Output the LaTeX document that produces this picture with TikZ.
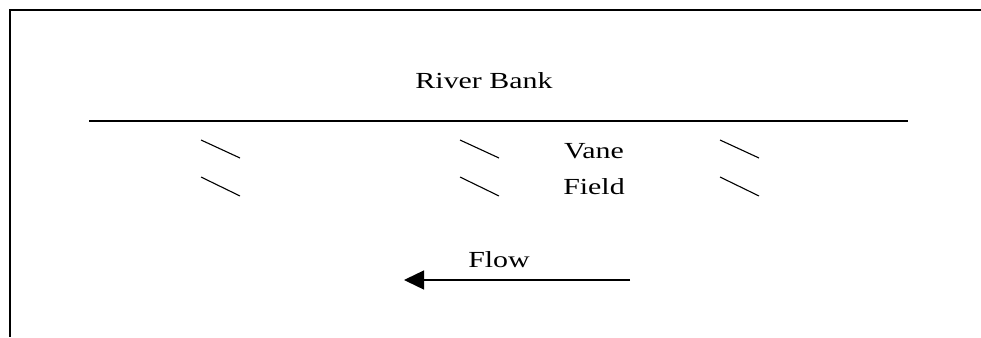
\documentclass[tikz,border=0pt]{standalone}
\usepackage{fontspec}
\setmainfont[FakeStretch=1.3]{Liberation Serif}
\usetikzlibrary{arrows.meta}
\begin{document}
\begin{tikzpicture}[x=1pt,y=-1pt,
  label text/.style={font=\fontsize{23}{25}\selectfont, inner sep=0pt, anchor=base},
  vane/.style={line width=1.1pt},
  frame line/.style={line width=2pt},
  bank/.style={line width=1.4pt},
  flow arrow/.style={line width=1.4pt, -{Triangle[length=20pt,width=19pt]}}]
  \useasboundingbox (0,0) rectangle (981,337);
  % frame edges along the top and left
  \coordinate (frameTL) at (10,10);
  \coordinate (frameTR) at (981,10);
  \coordinate (frameBL) at (10,337);
  \draw[frame line] (frameTR) -- (frameTL) -- (frameBL);
  % river bank
  \node[label text] (bankLabel) at (484,88) {River Bank};
  \coordinate (bankW) at (89,121);
  \coordinate (bankE) at (908,121);
  \draw[bank] (bankW) -- (bankE);
  % vanes, three pairs
  \foreach \x in {201,460,720} {
    \draw[vane] (\x,140) -- ++(39,18);
    \draw[vane] (\x,177) -- ++(39,19);
  }
  \node[label text] (vaneLabel) at (594,158) {Vane};
  \node[label text] (fieldLabel) at (594,194) {Field};
  % flow direction
  \node[label text] (flowLabel) at (499,267) {Flow};
  \coordinate (flowStart) at (630,280);
  \coordinate (flowEnd) at (404,280);
  \draw[flow arrow] (flowStart) -- (flowEnd);
\end{tikzpicture}
\end{document}
